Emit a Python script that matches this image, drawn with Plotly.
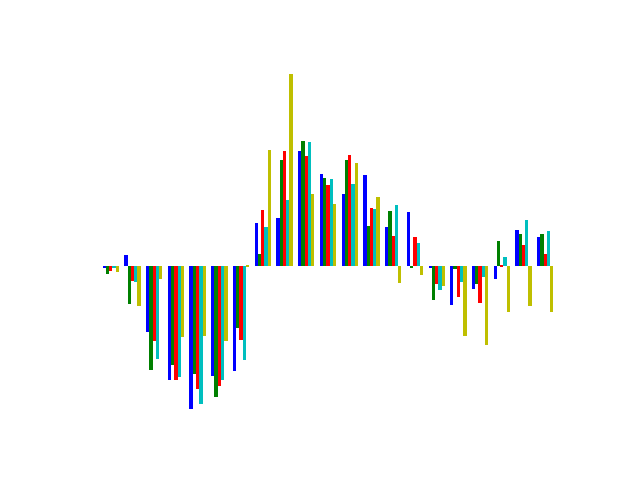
import plotly.graph_objects as go

groups = list(range(21))
series_names = ["blue", "green", "red", "cyan", "olive"]
colors = ["#0000ff", "#008000", "#ff0000", "#00bfbf", "#bfbf00"]

blue = [-0.01, 0.11, -0.66, -1.14, -1.43, -1.10, -1.05, 0.43, 0.48, 1.15, 0.92, 0.72, 0.91, 0.39, 0.54, -0.01, -0.39, -0.23, -0.13, 0.36, 0.29]
green = [-0.08, -0.38, -1.04, -0.99, -1.08, -1.31, -0.62, 0.12, 1.06, 1.25, 0.88, 1.06, 0.40, 0.55, -0.01, -0.34, -0.03, -0.18, 0.25, 0.32, 0.32]
red = [-0.05, -0.15, -0.75, -1.14, -1.23, -1.20, -0.74, 0.56, 1.15, 1.10, 0.81, 1.11, 0.58, 0.30, 0.29, -0.18, -0.31, -0.37, 0.01, 0.21, 0.12]
cyan = [-0.01, -0.16, -0.93, -1.11, -1.38, -1.14, -0.94, 0.39, 0.66, 1.24, 0.87, 0.82, 0.57, 0.61, 0.23, -0.24, -0.16, -0.11, 0.09, 0.46, 0.35]
olive = [-0.06, -0.40, -0.13, -0.71, -0.70, -0.75, 0.005, 1.16, 1.92, 0.72, 0.62, 1.03, 0.69, -0.17, -0.09, -0.20, -0.70, -0.79, -0.46, -0.40, -0.46]

data = [blue, green, red, cyan, olive]
width = 0.15

fig = go.Figure()
for j, (name, vals, col) in enumerate(zip(series_names, data, colors)):
    fig.add_trace(go.Bar(
        x=[g + j * width for g in groups],
        y=vals,
        width=width,
        marker=dict(color=col, line=dict(width=0)),
        name=name,
        showlegend=False,
    ))

ymin = min(min(s) for s in data)
ymax = max(max(s) for s in data)
pad = 0.05 * (ymax - ymin)
xlo = -width / 2
xhi = groups[-1] + 4 * width + width / 2
xpad = 0.05 * (xhi - xlo)

fig.update_layout(
    width=640, height=480,
    margin=dict(l=80, r=64, t=57, b=54),
    paper_bgcolor="white", plot_bgcolor="white",
    barmode="overlay",
    bargap=0,
    xaxis=dict(range=[xlo - xpad, xhi + xpad], visible=False, showgrid=False, zeroline=False),
    yaxis=dict(range=[ymin - pad, ymax + pad], visible=False, showgrid=False, zeroline=False),
)

fig.write_html("out.html")
